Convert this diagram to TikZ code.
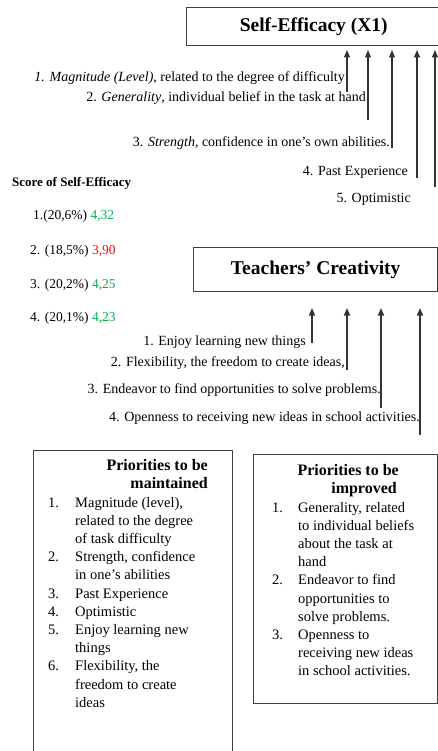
\documentclass[tikz,border=0pt]{standalone}
\usepackage{fontspec}
\setmainfont{Liberation Serif}
\usetikzlibrary{arrows.meta}
\definecolor{scgreen}{RGB}{0,176,80}
\definecolor{scred}{RGB}{255,0,0}
\begin{document}
\begin{tikzpicture}[x=1pt,y=-1pt,
  lbl/.style={inner sep=0pt, font=\fontsize{14}{16}\selectfont},
  sclbl/.style={inner sep=0pt, font=\fontsize{13.5}{16}\selectfont, anchor=west},
  titlebox/.style={draw=black!75, line width=1.4pt, inner sep=0pt, font=\bfseries\fontsize{19.5}{22}\selectfont},
  upar/.style={-{Triangle[width=6pt,length=7.5pt]}, line width=1.3pt, draw=black!80},
  listbox/.style={draw=black!75, line width=1.3pt, inner sep=0pt, anchor=north west},
  listtxt/.style={inner sep=0pt, font=\fontsize{14.5}{18.2}\selectfont, anchor=base west},
  head/.style={inner sep=0pt, font=\bfseries\fontsize{16}{18}\selectfont, anchor=base east}]
\useasboundingbox (0,0) rectangle (438,751);

% Self-Efficacy box
\node[titlebox, minimum width=254pt, minimum height=38pt, anchor=north west] (se) at (186,7) {Self-Efficacy (X1)};

% Self-efficacy indicators
\node[lbl, anchor=east] (i1) at (345,78) {\textit{1. Magnitude (Level)}, related to the degree of difficulty};
\node[lbl, anchor=east] (i2) at (366,98) {2. \textit{Generality}, individual belief in the task at hand};
\node[lbl, anchor=east] (i3) at (390,143) {3. \textit{Strength}, confidence in one's own abilities.};
\node[lbl, anchor=east] (i4) at (408,172) {4. Past Experience};
\node[lbl, anchor=east] (i5) at (411,199) {5. Optimistic};

\coordinate (s1b) at (347,92);  \coordinate (s1t) at (347,50);
\coordinate (s2b) at (368,120); \coordinate (s2t) at (368,50);
\coordinate (s3b) at (392,148); \coordinate (s3t) at (392,50);
\coordinate (s4b) at (417,178); \coordinate (s4t) at (417,50);
\coordinate (s5b) at (435,187); \coordinate (s5t) at (435,50);
\draw[upar] (s1b) -- (s1t);
\draw[upar] (s2b) -- (s2t);
\draw[upar] (s3b) -- (s3t);
\draw[upar] (s4b) -- (s4t);
\draw[upar] (s5b) -- (s5t);

% Scores
\node[sclbl, font=\bfseries\fontsize{13}{16}\selectfont] (sct) at (12,183) {Score of Self-Efficacy};
\node[sclbl] (sc1) at (33,216) {1.(20,6\%) \textcolor{scgreen}{4,32}};
\node[sclbl] (sc2) at (30,251) {2. (18,5\%) \textcolor{scred}{3,90}};
\node[sclbl] (sc3) at (30,285) {3. (20,2\%) \textcolor{scgreen}{4,25}};
\node[sclbl] (sc4) at (30,318) {4. (20,1\%) \textcolor{scgreen}{4,23}};

% Teachers' Creativity box
\node[titlebox, minimum width=244pt, minimum height=44pt, anchor=north west] (tc) at (193,247) {Teachers' Creativity};

\node[lbl, anchor=east] (c1) at (306,342) {1. Enjoy learning new things};
\node[lbl, anchor=east] (c2) at (345,363) {2. Flexibility, the freedom to create ideas,};
\node[lbl, anchor=east] (c3) at (381,390) {3. Endeavor to find opportunities to solve problems.};
\node[lbl, anchor=east] (c4) at (420,418) {4. Openness to receiving new ideas in school activities.};

\coordinate (t1b) at (312,343); \coordinate (t1t) at (312,308);
\coordinate (t2b) at (347,370); \coordinate (t2t) at (347,308);
\coordinate (t3b) at (381,408); \coordinate (t3t) at (381,308);
\coordinate (t4b) at (420,435); \coordinate (t4t) at (420,308);
\draw[upar] (t1b) -- (t1t);
\draw[upar] (t2b) -- (t2t);
\draw[upar] (t3b) -- (t3t);
\draw[upar] (t4b) -- (t4t);

% Priorities to be maintained
\node[listbox, minimum width=199pt, minimum height=320pt] (pm) at (33,450) {};
\node[head] (pmh1) at (208,470) {Priorities to be};
\node[head] (pmh2) at (208,488) {maintained};
\node[listtxt] (pml) at (48,507) {\begin{tabular}[t]{@{}p{27pt}@{}l@{}}
1. & Magnitude (level),\\
   & related to the degree\\
   & of task difficulty\\
2. & Strength, confidence\\
   & in one's abilities\\
3. & Past Experience\\
4. & Optimistic\\
5. & Enjoy learning new\\
   & things\\
6. & Flexibility, the\\
   & freedom to create\\
   & ideas
\end{tabular}};

% Priorities to be improved
\node[listbox, minimum width=184pt, minimum height=249pt] (pi) at (253,454) {};
\node[head] (pih1) at (399,475) {Priorities to be};
\node[head] (pih2) at (397,493) {improved};
\node[listtxt] (pil) at (272,512) {\begin{tabular}[t]{@{}p{26pt}@{}l@{}}
1. & Generality, related\\
   & to individual beliefs\\
   & about the task at\\
   & hand\\
2. & Endeavor to find\\
   & opportunities to\\
   & solve problems.\\
3. & Openness to\\
   & receiving new ideas\\
   & in school activities.
\end{tabular}};
\end{tikzpicture}
\end{document}
